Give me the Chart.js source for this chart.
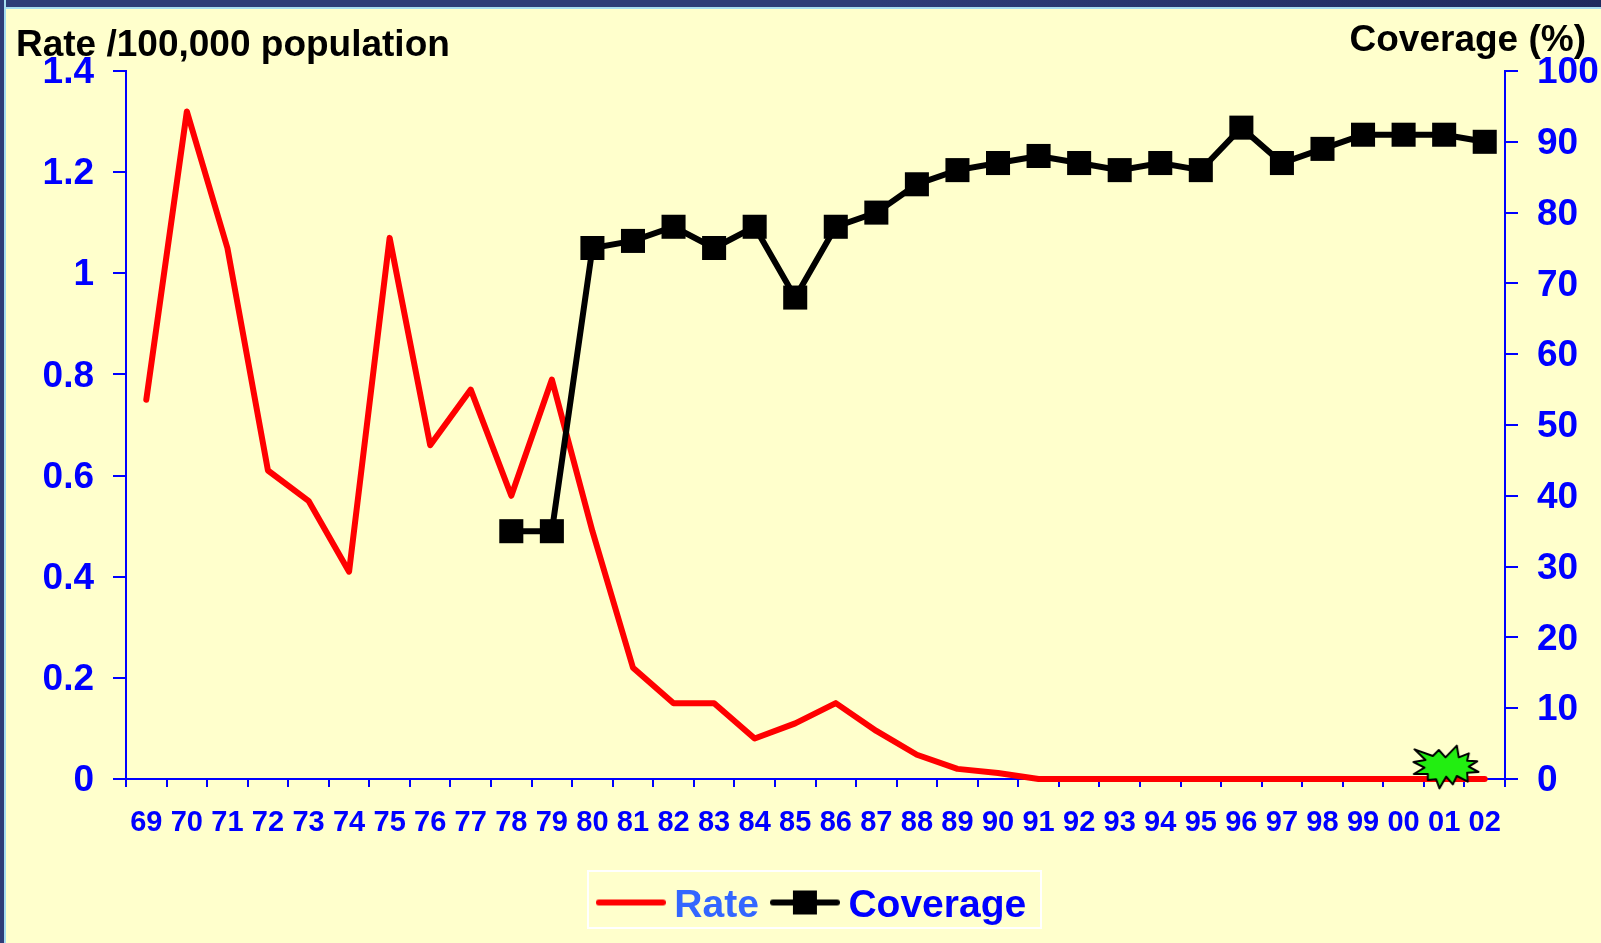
<!DOCTYPE html>
<html><head><meta charset="utf-8">
<style>
html,body{margin:0;padding:0;width:1601px;height:943px;overflow:hidden;background:#FFFFCC}
#top{position:absolute;left:0;top:0;width:1601px;height:7px;background:linear-gradient(90deg,#2E3C78,#2E3C78 55%,#1F2A5E);border-bottom:2px solid #A6DCF0}
#left{position:absolute;left:0;top:0;width:4px;height:943px;background:#2E3C78;border-right:2px solid #A6DCF0}
#wrap{position:absolute;left:0;top:0;width:1601px;height:943px}
</style>
<script src="https://cdn.jsdelivr.net/npm/chart.js@4"></script>
</head><body>
<div id="top"></div><div id="left"></div>
<div id="wrap"><canvas id="c" width="1601" height="943"></canvas></div>
<script>
const years = ['69','70','71','72','73','74','75','76','77','78','79','80','81','82','83','84','85','86','87','88','89','90','91','92','93','94','95','96','97','98','99','00','01','02'];
const rate = [0.75,1.32,1.05,0.61,0.55,0.41,1.07,0.66,0.77,0.56,0.79,0.49,0.22,0.15,0.15,0.08,0.11,0.15,0.095,0.048,0.02,0.012,0,0,0,0,0,0,0,0,0,0,0,0];
const coverage = [null,null,null,null,null,null,null,null,null,35,35,75,76,78,75,78,68,78,80,84,86,87,88,87,86,87,86,92,87,89,91,91,91,90];
const burst = years.map(y => y === '01' ? 1.7 : null);
const leftTicks = ['0','0.2','0.4','0.6','0.8','1','1.2','1.4'];
const rightTicks = ['0','10','20','30','40','50','60','70','80','90','100'];
const leftTitle = 'Rate /100,000 population';
const rightTitle = 'Coverage (%)';

const BLUE = '#0000FF';
const FONT = '"Liberation Sans", Arial, sans-serif';

function burstImage(){
  const pts = [[345,148],[400,168],[418,150],[438,172],[472,137],[478,172],[508,160],[503,182],[533,184],[508,200],[537,216],[503,218],[505,245],[472,228],[460,253],[440,230],[420,265],[410,238],[385,240],[385,222],[343,222],[375,203],[342,186],[378,180]];
  const c = document.createElement('canvas'); c.width = 80; c.height = 54;
  const g = c.getContext('2d');
  g.beginPath();
  pts.forEach((p,i)=>{const x=(p[0]-440)/3+42,y=(p[1]-201)/3+27; i?g.lineTo(x,y):g.moveTo(x,y);});
  g.closePath(); g.fillStyle='#22EE11'; g.fill();
  g.lineWidth=2; g.lineJoin='round'; g.strokeStyle='#000'; g.stroke();
  return c;
}
function sample(color, marker){
  const c = document.createElement('canvas'); c.width = 70; c.height = 34;
  const g = c.getContext('2d');
  g.strokeStyle=color; g.lineWidth=6; g.lineCap='round';
  g.beginPath(); g.moveTo(3,13); g.lineTo(67,13); g.stroke();
  if(marker){g.fillStyle='#000'; g.fillRect(23,1,24,24);}
  return c;
}
const legendImgs = [sample('#FF0000',false), sample('#000000',true)];
const legendColors = ['#3366FF', BLUE];

const extras = {
  id:'extras',
  afterLayout(chart){
    const l = chart.legend;
    l.left += 16; l.right += 16; l.top -= 7; l.bottom -= 7;
  },
  afterDraw(chart){
    const g = chart.ctx; g.save();
    g.fillStyle='#000'; g.font='bold 37px '+FONT; g.textBaseline='alphabetic';
    g.textAlign='left'; g.fillText(leftTitle,16,56);
    g.textAlign='right'; g.fillText(rightTitle,1586,51);
    g.strokeStyle='#FFFFFF'; g.lineWidth=2; g.strokeRect(588,871,453,57);
    g.restore();
  }
};

new Chart(document.getElementById('c'),{
  type:'line',
  data:{labels:years,datasets:[
    {label:'Rate',data:rate,yAxisID:'y',borderColor:'#FF0000',borderWidth:6,pointRadius:0,tension:0,borderCapStyle:'round',borderJoinStyle:'round',clip:false,order:2},
    {label:'Coverage',data:coverage,yAxisID:'y1',borderColor:'#000',backgroundColor:'#000',borderWidth:6,pointStyle:'rect',pointRadius:17,pointBackgroundColor:'#000',pointBorderWidth:0,tension:0,clip:false,order:1},
    {label:'burst',data:burst,yAxisID:'y1',showLine:false,pointStyle:burstImage(),pointRadius:20,clip:false,order:0}
  ]},
  plugins:[extras],
  options:{
    responsive:false,animation:false,
    layout:{padding:{top:71,left:0,right:0,bottom:0}},
    plugins:{
      tooltip:{enabled:false},title:{display:false},
      legend:{
        position:'bottom',
        labels:{
          font:{family:FONT,size:39,weight:'bold'},
          usePointStyle:true,pointStyleWidth:48,boxHeight:26,padding:22,
          generateLabels(chart){
            return chart.data.datasets.slice(0,2).map((d,i)=>({text:d.label,fontColor:legendColors[i],pointStyle:legendImgs[i],datasetIndex:i,hidden:false,lineWidth:0,strokeStyle:'transparent',fillStyle:'transparent'}));
          }
        }
      }
    },
    scales:{
      x:{
        offset:true,
        grid:{offset:true,drawOnChartArea:false,color:BLUE,lineWidth:2,tickLength:8,tickColor:BLUE},
        border:{color:BLUE,width:2},
        ticks:{color:BLUE,font:{family:FONT,size:29,weight:'bold'},maxRotation:0,minRotation:0,autoSkip:false,padding:19},
        afterFit(a){a.height = 943-779-a.chart.legend.height;}
      },
      y:{
        position:'left',min:0,max:1.4,
        grid:{drawOnChartArea:false,color:BLUE,lineWidth:2,tickLength:13,tickColor:BLUE},
        border:{color:BLUE,width:2},
        ticks:{stepSize:0.2,color:BLUE,font:{family:FONT,size:37,weight:'bold'},padding:19,labelOffset:2,callback:(v,i)=>leftTicks[i]},
        afterFit(a){a.width=126;}
      },
      y1:{
        position:'right',min:0,max:100,
        grid:{drawOnChartArea:false,color:BLUE,lineWidth:2,tickLength:13,tickColor:BLUE},
        border:{color:BLUE,width:2},
        ticks:{stepSize:10,color:BLUE,font:{family:FONT,size:37,weight:'bold'},padding:19,labelOffset:2,callback:(v,i)=>rightTicks[i]},
        afterFit(a){a.width=96;}
      }
    }
  }
});
</script>
</body></html>
